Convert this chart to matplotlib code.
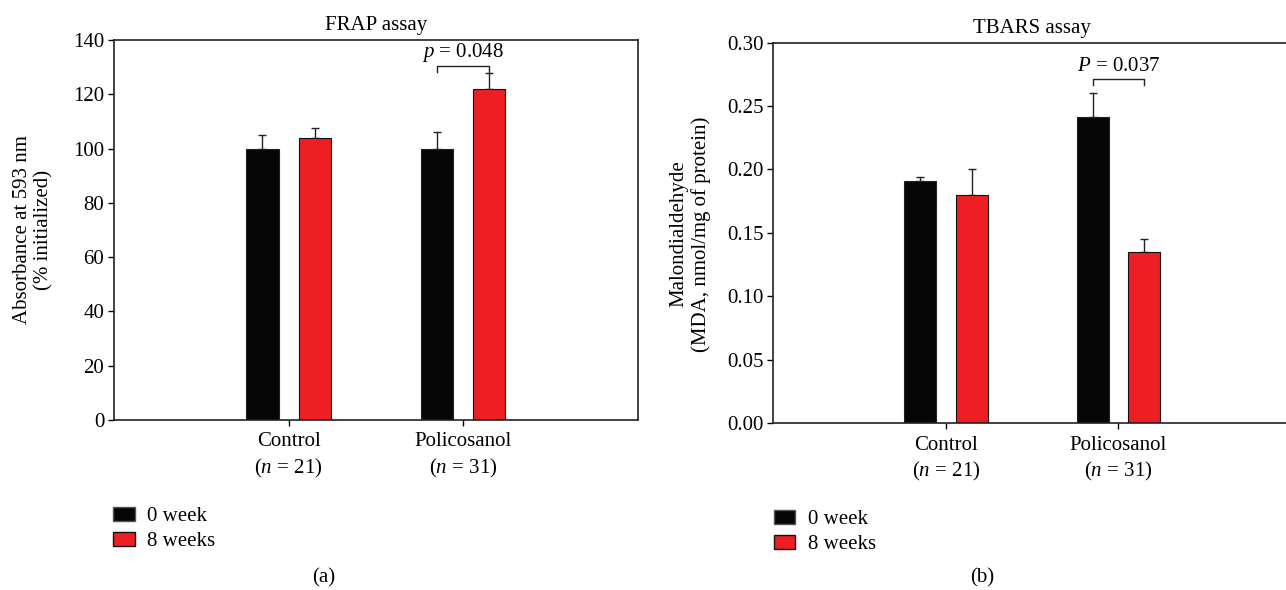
import numpy as np
import matplotlib
matplotlib.use('Agg')
import matplotlib.pyplot as plt
from matplotlib.patches import Patch

plt.rcParams['font.family'] = ['Liberation Serif', 'DejaVu Serif']
plt.rcParams['mathtext.fontset'] = 'custom'
plt.rcParams['mathtext.rm'] = 'Liberation Serif'
plt.rcParams['mathtext.it'] = 'Liberation Serif:italic'
FS = 15
plt.rcParams['font.size'] = FS

groups = ['Control', 'Policosanol']
group_n = [21, 31]
series_labels = ['0 week', '8 weeks']

frap_0 = [100, 100]
frap_0_err = [5, 6]
frap_8 = [104, 122]
frap_8_err = [3.5, 6]
frap_p = '$\\it{p}$ = 0.048'
frap_bracket = [130.4, 128.3]
frap_ptext_y = 135.4

tbars_0 = [0.191, 0.241]
tbars_0_err = [0.003, 0.019]
tbars_8 = [0.180, 0.1345]
tbars_8_err = [0.020, 0.0105]
tbars_p = '$\\it{P}$ = 0.037'
tbars_bracket = [0.271, 0.2665]
tbars_ptext_y = 0.2815

BLACK = '#060606'
RED = '#ED1F24'
W, H = 1286, 590


def draw_panel(ax, v0, e0, v8, e8, ylim, yticks, yfmt, ptext, bracket, ptext_y, title):
    x = np.arange(len(groups))
    off, w = 0.15, 0.185
    ax.bar(x - off, v0, w, color=BLACK, edgecolor='#222222', linewidth=0.8, zorder=2)
    ax.bar(x + off, v8, w, color=RED, edgecolor='#111111', linewidth=0.8, zorder=2)
    ax.errorbar(x - off, v0, yerr=[np.zeros(len(e0)), e0], fmt='none',
                ecolor='#222222', elinewidth=1.0, capsize=3, capthick=1.0, zorder=1)
    ax.errorbar(x + off, v8, yerr=[np.zeros(len(e8)), e8], fmt='none',
                ecolor='#222222', elinewidth=1.0, capsize=3, capthick=1.0, zorder=1)
    # significance bracket on Policosanol group
    xl, xr = x[1] - off, x[1] + off
    ax.plot([xl, xl, xr, xr], [bracket[1], bracket[0], bracket[0], bracket[1]],
            color='#222222', lw=1.0)
    ax.text(x[1], ptext_y, ptext, ha='center', va='center', fontsize=FS)
    ax.set_xlim(-1, 2)
    ax.set_ylim(*ylim)
    ax.set_yticks(yticks)
    ax.set_yticklabels([yfmt.format(t) for t in yticks])
    ax.set_xticks(x)
    ax.set_xticklabels(['%s\n($\\it{n}$ = %d)' % (g, n) for g, n in zip(groups, group_n)],
                       linespacing=1.35)
    ax.tick_params(direction='out', length=4, width=1, pad=3, labelsize=FS)
    ax.tick_params(axis='x', pad=5)
    for s in ax.spines.values():
        s.set_linewidth(1.2)
        s.set_color('#222222')
    ax.set_title(title, fontsize=FS, pad=7)


fig = plt.figure(figsize=(W / 100, H / 100), dpi=100)

ax1 = fig.add_axes([114 / W, 1 - 420 / H, (637.7 - 114) / W, 380 / H])
draw_panel(ax1, frap_0, frap_0_err, frap_8, frap_8_err, (0, 140),
           np.arange(0, 141, 20), '{:.0f}', frap_p, frap_bracket, frap_ptext_y, 'FRAP assay')

ax2 = fig.add_axes([773.3 / W, 1 - 423 / H, (1291 - 773.3) / W, 380.3 / H])
draw_panel(ax2, tbars_0, tbars_0_err, tbars_8, tbars_8_err, (0, 0.30),
           np.round(np.arange(0, 0.301, 0.05), 2), '{:.2f}', tbars_p, tbars_bracket,
           tbars_ptext_y, 'TBARS assay')

fig.text(33 / W, 1 - 230 / H, 'Absorbance at 593 nm\n(% initialized)', rotation=90,
         ha='center', va='center', multialignment='center', fontsize=FS, linespacing=1.15)
fig.text(690 / W, 1 - 234 / H, 'Malondialdehyde\n(MDA, nmol/mg of protein)', rotation=90,
         ha='center', va='center', multialignment='center', fontsize=FS, linespacing=1.15)

handles = [Patch(facecolor=BLACK, edgecolor='#555555'),
           Patch(facecolor=RED, edgecolor='#111111')]
for lx, ly in [(113, 529), (773.5, 532)]:
    fig.legend(handles, series_labels, loc='center left',
               bbox_to_anchor=(lx / W, 1 - ly / H), frameon=False, fontsize=FS,
               handlelength=1.05, handleheight=0.65, handletextpad=0.6,
               labelspacing=0.25, borderpad=0, borderaxespad=0)

fig.text(324 / W, 1 - 578 / H, '(a)', ha='center', va='center', fontsize=FS)
fig.text(982 / W, 1 - 578 / H, '(b)', ha='center', va='center', fontsize=FS)

fig.savefig('out.png', dpi=100)
